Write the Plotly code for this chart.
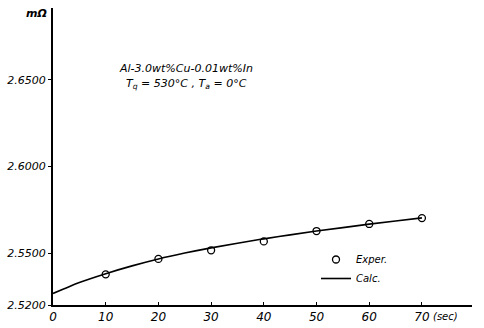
import plotly.graph_objects as go

# Experimental points
exp_t = [10, 20, 30, 40, 50, 60, 70]
exp_r = [2.5377, 2.5466, 2.5516, 2.5567, 2.5627, 2.5668, 2.5702]

# Calculated curve
calc_t = [0, 2, 5, 10, 15, 20, 25, 30, 35, 40, 45, 50, 55, 60, 65, 70]
calc_r = [2.5267, 2.5292, 2.5330, 2.5381, 2.5426, 2.5466, 2.5500, 2.5530,
          2.5557, 2.5582, 2.5605, 2.5627, 2.5647, 2.5667, 2.5685, 2.5703]

x_ticks = [0, 10, 20, 30, 40, 50, 60, 70]
y_ticks = [2.52, 2.55, 2.60, 2.65]
y_ticktext = ["2.5200", "2.5500", "2.6000", "2.6500"]

FONT = "DejaVu Sans"

fig = go.Figure()
fig.add_trace(go.Scatter(
    x=exp_t, y=exp_r, mode="markers", name="Exper.",
    marker=dict(symbol="circle-open", size=7, color="black", line=dict(width=1.3)),
))
fig.add_trace(go.Scatter(
    x=calc_t, y=calc_r, mode="lines", name="Calc.",
    line=dict(color="black", width=1.6, shape="spline"),
))

H = 297  # plot-area height in px (t=8, b=23)

def py(pix):
    return (305 - pix) / H

def px(pix):
    return (pix - 53) / 419

fig.update_layout(
    width=484, height=328,
    margin=dict(l=53, r=12, t=8, b=23),
    paper_bgcolor="white", plot_bgcolor="white",
    font=dict(family=FONT, color="black", size=11, style="italic"),
    showlegend=True,
    legend=dict(
        x=px(316), y=py(245), xanchor="left", yanchor="top",
        bgcolor="rgba(0,0,0,0)", itemwidth=30, tracegroupgap=0,
        font=dict(family=FONT, size=10, style="italic", color="black"),
    ),
    xaxis=dict(
        range=[0, 79.5], tickvals=x_ticks, ticktext=[str(v) for v in x_ticks],
        showline=True, linecolor="black", linewidth=2, showgrid=False, zeroline=False,
        ticks="inside", ticklen=3, tickcolor="black", automargin=False,
        tickfont=dict(family=FONT, size=12, style="italic"),
    ),
    yaxis=dict(
        range=[2.52, 2.6915], tickvals=y_ticks, ticktext=y_ticktext,
        showline=True, linecolor="black", linewidth=2, showgrid=False, zeroline=False,
        ticks="outside", ticklen=3, tickcolor="black", automargin=False,
        tickfont=dict(family=FONT, size=11, style="italic"),
    ),
    annotations=[
        dict(text="mΩ", xref="paper", yref="paper", x=-0.01, y=py(13),
             xanchor="right", yanchor="middle", showarrow=False,
             font=dict(family=FONT, size=11, style="italic", weight="bold")),
        dict(text="(sec)", xref="x", yref="paper", x=74.5, y=0, yshift=-4,
             xanchor="center", yanchor="top", showarrow=False,
             font=dict(family=FONT, size=10, style="italic")),
        dict(text="Al-3.0wt%Cu-0.01wt%In", xref="paper", yref="paper",
             x=px(186), y=py(68), xanchor="center", yanchor="middle",
             showarrow=False, font=dict(family=FONT, size=11, style="italic")),
        dict(text="<i>T</i><sub>q</sub> = 530°C , <i>T</i><sub>a</sub> = 0°C",
             xref="paper", yref="paper",
             x=px(186), y=py(84), xanchor="center", yanchor="middle",
             showarrow=False, font=dict(family=FONT, size=11, style="italic")),
    ],
)

fig.write_html("out.html")
